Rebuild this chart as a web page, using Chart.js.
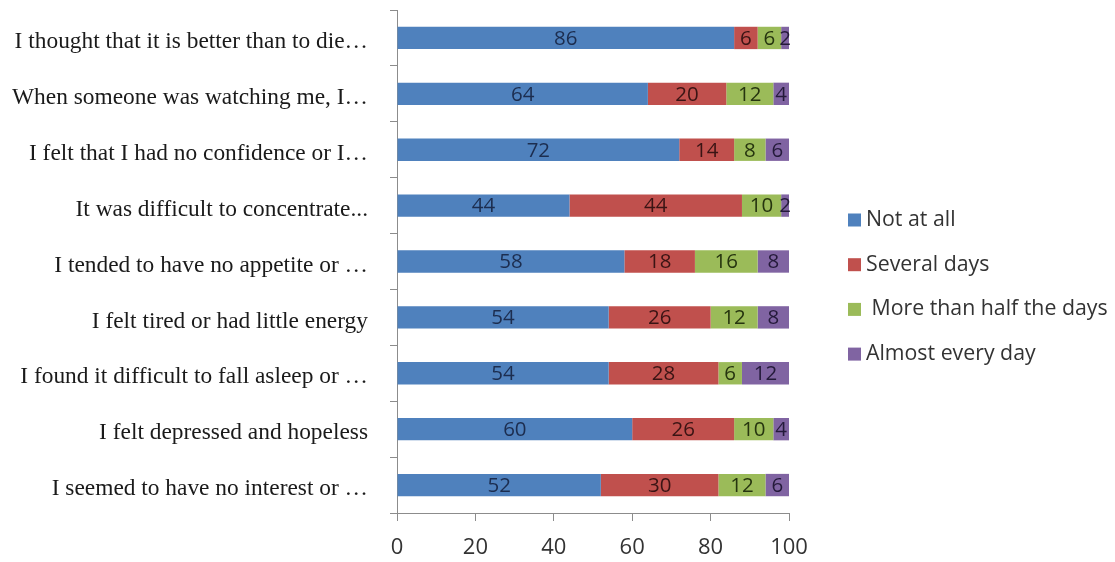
<!DOCTYPE html>
<html>
<head>
<meta charset="utf-8">
<script src="https://cdn.jsdelivr.net/npm/chart.js@4.4.1/dist/chart.umd.min.js"></script>
<style>
  html, body { margin: 0; padding: 0; background: #ffffff; }
  #wrap { width: 1115px; height: 562px; position: relative; }
</style>
</head>
<body>
<div id="wrap"><canvas id="c" width="1115" height="562"></canvas></div>
<script>
// Survey items (top to bottom) and share of answers per frequency, in percent
const items = [
  "I thought that it is better than to die…",
  "When someone was watching me, I…",
  "I felt that I had no confidence or I…",
  "It was difficult to concentrate...",
  "I tended to have no appetite or …",
  "I felt tired or had little energy",
  "I found it difficult to fall asleep or …",
  "I felt depressed and hopeless",
  "I seemed to have no interest or …"
];
const notAtAll        = [86, 64, 72, 44, 58, 54, 54, 60, 52];
const severalDays     = [6, 20, 14, 44, 18, 26, 28, 26, 30];
const moreThanHalf    = [6, 12, 8, 10, 16, 12, 6, 10, 12];
const almostEveryDay  = [2, 4, 6, 2, 8, 8, 12, 4, 6];
const seriesNames = ["Not at all", "Several days", " More than half the days", "Almost every day"];
const xTicks = [0, 20, 40, 60, 80, 100];

const barColors  = ["#4f81bd", "#c0504d", "#9bbb59", "#8064a2"];
const textColors = ["#1c2d4f", "#3a1414", "#26350f", "#241a3a"];
const sansFont = "'Open Sans', 'Liberation Sans', sans-serif";

// Value written in the middle of every bar segment
const segmentLabels = {
  id: 'segmentLabels',
  afterDatasetsDraw(chart) {
    const ctx = chart.ctx;
    ctx.save();
    ctx.font = "20.5px " + sansFont;
    ctx.textAlign = 'center';
    ctx.textBaseline = 'middle';
    chart.data.datasets.forEach((ds, di) => {
      const meta = chart.getDatasetMeta(di);
      ctx.fillStyle = textColors[di];
      meta.data.forEach((bar, i) => {
        const p = bar.getCenterPoint();
        ctx.fillText(String(ds.data[i]), p.x, p.y + 1);
      });
    });
    ctx.restore();
  }
};

// Legend column on the right side
const sideLegend = {
  id: 'sideLegend',
  afterDraw(chart) {
    const ctx = chart.ctx;
    ctx.save();
    ctx.font = "21.3px " + sansFont;
    ctx.textBaseline = 'middle';
    ctx.textAlign = 'left';
    chart.data.datasets.forEach((ds, i) => {
      const y = 220 + i * 44.7;
      ctx.fillStyle = ds.backgroundColor;
      ctx.fillRect(848, y - 6.5, 13, 13);
      ctx.fillStyle = '#333333';
      ctx.fillText(ds.label, 866, y);
    });
    ctx.restore();
  }
};

const seriesValues = [notAtAll, severalDays, moreThanHalf, almostEveryDay];

new Chart(document.getElementById('c'), {
  type: 'bar',
  data: {
    labels: items,
    datasets: seriesValues.map((vals, i) => ({
      label: seriesNames[i],
      data: vals,
      backgroundColor: barColors[i],
      borderWidth: 0,
      barPercentage: 1,
      categoryPercentage: 0.4
    }))
  },
  options: {
    indexAxis: 'y',
    responsive: false,
    animation: false,
    layout: { padding: { top: 10, right: 326, left: 0, bottom: 0 } },
    plugins: {
      legend: { display: false },
      tooltip: { enabled: false }
    },
    scales: {
      x: {
        stacked: true,
        min: 0,
        max: 100,
        afterBuildTicks(scale) { scale.ticks = xTicks.map(v => ({ value: v })); },
        afterFit(scale) { scale.height = 49; },
        border: { display: true, color: '#8c8c8c', width: 1 },
        grid: { drawOnChartArea: false, drawTicks: true, tickLength: 8, color: '#8c8c8c' },
        ticks: {
          font: { family: sansFont, size: 22 },
          color: '#333333',
          padding: 14,
          maxRotation: 0
        }
      },
      y: {
        stacked: true,
        afterFit(scale) {
          scale.width = 397;
          scale.paddingTop = 0;
          scale.paddingBottom = 0;
        },
        border: { display: true, color: '#8c8c8c', width: 1 },
        grid: { drawOnChartArea: false, drawTicks: true, tickLength: 7, color: '#8c8c8c', offset: true },
        ticks: {
          font: { family: "'Liberation Serif', 'Times New Roman', serif", size: 23.4 },
          color: '#1a1a1a',
          padding: 22,
          labelOffset: 4
        }
      }
    }
  },
  plugins: [segmentLabels, sideLegend]
});
</script>
</body>
</html>
